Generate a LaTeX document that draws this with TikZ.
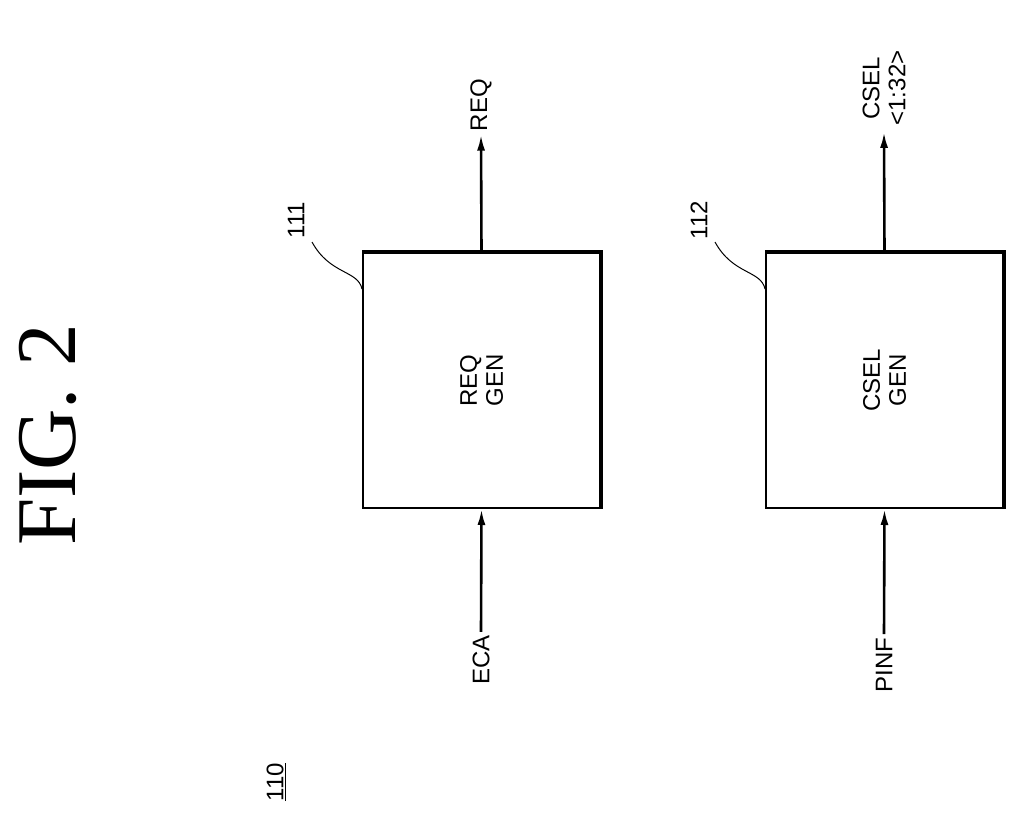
\documentclass[tikz,border=0pt]{standalone}
\usepackage{fontspec}
\setmainfont{Liberation Sans}
\newfontfamily\figfont{Liberation Serif}
\usetikzlibrary{arrows.meta}
\begin{document}
\begin{tikzpicture}[x=1pt,y=-1pt,
	blk/.style={draw,line width=2pt,minimum width=237pt,minimum height=255pt,inner sep=0pt},
	sig/.style={rotate=90,font=\fontsize{24}{26}\selectfont,align=center},
	ref/.style={rotate=90,font=\fontsize{24}{26}\selectfont},
	wire/.style={-{Latex[length=16pt,width=8pt]},line width=2.6pt}]
	\useasboundingbox (0,0) rectangle (1026,821);
	\node[rotate=90,font=\figfont\fontsize{85}{90}\selectfont] (fig) at (48,435) {FIG. 2};
	\node[ref] (top) at (276,782) {\underline{110}};
	% first block
	\node[blk] (req) at (481.5,380.5) {};
	\node[sig] (reqtxt) at (req) {REQ\\GEN};
	\draw[line width=4.5pt] (req.north west) -- (req.north east) -- (req.south east);
	\node[sig] (reqout) at (481,105) {REQ};
	\node[sig] (eca) at (481,660) {ECA};
	\draw[wire] (req.north) -- (reqout.west);
	\draw[wire] (eca.east) -- (req.south);
	\node[ref] (r111) at (296,220) {111};
	\coordinate (c111) at (312,242);
	\draw[line width=1pt] (c111) .. controls (330,275) and (358,270) .. ([yshift=-37]req.north west);
	% second block
	\node[blk] (csel) at (884.5,380.5) {};
	\node[sig] (cseltxt) at (csel) {CSEL\\GEN};
	\draw[line width=4.5pt] (csel.north west) -- (csel.north east) -- (csel.south east);
	\node[sig] (cselout) at (884,88) {CSEL\\<1:32>};
	\node[sig] (pinf) at (884,665) {PINF};
	\draw[wire] (csel.north) -- ([yshift=-3]cselout.west);
	\draw[wire] (pinf.east) -- (csel.south);
	\node[ref] (r112) at (699,220) {112};
	\coordinate (c112) at (715,242);
	\draw[line width=1pt] (c112) .. controls (733,275) and (761,270) .. ([yshift=-37]csel.north west);
\end{tikzpicture}
\end{document}
